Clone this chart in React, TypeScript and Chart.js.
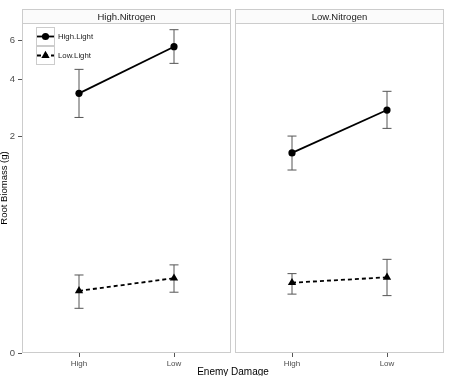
import React, { useEffect, useRef } from "react";
import { Chart, registerables, LinearScale } from "chart.js";

Chart.register(...registerables);

class CbrtScale extends LinearScale {
  static id = "cbrt";
  static defaults = LinearScale.defaults;
  getPixelForValue(value: number) {
    const a = Math.cbrt(this.min), b = Math.cbrt(this.max);
    return this.getPixelForDecimal((Math.cbrt(value) - a) / (b - a));
  }
  getValueForPixel(pixel: number) {
    const a = Math.cbrt(this.min), b = Math.cbrt(this.max);
    const t = a + this.getDecimalForPixel(pixel) * (b - a);
    return t * t * t;
  }
}
Chart.register(CbrtScale as any);

// ---- data ----
const categories = ["High", "Low"];
const panels = ["High.Nitrogen", "Low.Nitrogen"];
const seriesNames = ["High.Light", "Low.Light"];
const yTicks = [0, 2, 4, 6];
const yMax = 7.04;

const highN_highLight = [3.43, 5.63];
const highN_highLight_lo = [2.56, 4.76];
const highN_highLight_hi = [4.47, 6.62];
const highN_lowLight = [0.047, 0.082];
const highN_lowLight_lo = [0.0175, 0.044];
const highN_lowLight_hi = [0.093, 0.134];

const lowN_highLight = [1.57, 2.81];
const lowN_highLight_lo = [1.2, 2.22];
const lowN_highLight_hi = [2.0, 3.51];
const lowN_lowLight = [0.068, 0.085];
const lowN_lowLight_lo = [0.04, 0.037];
const lowN_lowLight_hi = [0.098, 0.161];

const FONT = "'Liberation Sans', Arial, sans-serif";

const toPts = (vals: number[]) => vals.map((v, i) => ({ x: i + 1, y: v }));

function makeDatasets(hl: number[], hlLo: number[], hlHi: number[], ll: number[], llLo: number[], llHi: number[]) {
  return [
    {
      label: seriesNames[0],
      data: toPts(hl),
      errLo: hlLo,
      errHi: hlHi,
      borderColor: "#000",
      backgroundColor: "#000",
      borderWidth: 1.8,
      pointStyle: "circle",
      pointRadius: 3.6,
      pointBorderWidth: 0,
      tension: 0,
    },
    {
      label: seriesNames[1],
      data: toPts(ll),
      errLo: llLo,
      errHi: llHi,
      borderColor: "#000",
      backgroundColor: "#000",
      borderWidth: 1.8,
      borderDash: [4, 3],
      pointStyle: "triangle",
      pointRadius: 4.8,
      pointBorderWidth: 0,
      tension: 0,
    },
  ];
}

const errorBarPlugin = {
  id: "errbars",
  beforeDatasetsDraw(chart: any) {
    const ctx = chart.ctx;
    const xs = chart.scales.x, ys = chart.scales.y;
    ctx.save();
    ctx.strokeStyle = "#555";
    ctx.lineWidth = 1;
    chart.data.datasets.forEach((ds: any) => {
      ds.data.forEach((p: any, i: number) => {
        const x = xs.getPixelForValue(p.x);
        const y1 = ys.getPixelForValue(ds.errLo[i]);
        const y2 = ys.getPixelForValue(ds.errHi[i]);
        ctx.beginPath();
        ctx.moveTo(x, y1); ctx.lineTo(x, y2);
        ctx.moveTo(x - 4.5, y1); ctx.lineTo(x + 4.5, y1);
        ctx.moveTo(x - 4.5, y2); ctx.lineTo(x + 4.5, y2);
        ctx.stroke();
      });
    });
    ctx.restore();
  },
};

const panelPlugin = {
  id: "panel",
  beforeDraw(chart: any) {
    const ctx = chart.ctx;
    const a = chart.chartArea;
    ctx.save();
    ctx.fillStyle = "#fff";
    ctx.fillRect(a.left, a.top, a.right - a.left, a.bottom - a.top);
    ctx.restore();
  },
  afterDraw(chart: any, _args: any, opts: any) {
    const ctx = chart.ctx;
    const a = chart.chartArea;
    ctx.save();
    ctx.strokeStyle = "#cccccc";
    ctx.lineWidth = 1;
    ctx.strokeRect(a.left + 0.5, a.top + 0.5, a.right - a.left - 1, a.bottom - a.top - 1);
    // strip
    ctx.fillStyle = "#fbfbfb";
    ctx.fillRect(a.left, 9, a.right - a.left, a.top - 9);
    ctx.strokeRect(a.left + 0.5, 9.5, a.right - a.left - 1, a.top - 9);
    ctx.fillStyle = "#1a1a1a";
    ctx.font = `9.5px ${FONT}`;
    ctx.textAlign = "center";
    ctx.textBaseline = "middle";
    ctx.fillText(opts.strip, (a.left + a.right) / 2, (9 + a.top) / 2 + 1);
    if (opts.legend) {
      const dss = chart.data.datasets;
      dss.forEach((ds: any, i: number) => {
        const kx = 36, ky = 27 + i * 19, kw = 19;
        ctx.fillStyle = "#fff";
        ctx.fillRect(kx, ky, kw, kw);
        ctx.strokeStyle = "#cccccc";
        ctx.lineWidth = 1;
        ctx.strokeRect(kx + 0.5, ky + 0.5, kw - 1, kw - 1);
        const cy = ky + kw / 2;
        ctx.strokeStyle = "#000";
        ctx.lineWidth = 1.8;
        ctx.setLineDash(ds.borderDash || []);
        ctx.beginPath();
        ctx.moveTo(kx + 1, cy); ctx.lineTo(kx + kw - 1, cy);
        ctx.stroke();
        ctx.setLineDash([]);
        ctx.fillStyle = "#000";
        if (ds.pointStyle === "circle") {
          ctx.beginPath();
          ctx.arc(kx + kw / 2, cy, 3.6, 0, Math.PI * 2);
          ctx.fill();
        } else {
          const r = 4.8;
          ctx.beginPath();
          ctx.moveTo(kx + kw / 2, cy - r);
          ctx.lineTo(kx + kw / 2 + r * 0.866, cy + r * 0.5);
          ctx.lineTo(kx + kw / 2 - r * 0.866, cy + r * 0.5);
          ctx.closePath();
          ctx.fill();
        }
        ctx.fillStyle = "#1a1a1a";
        ctx.font = `7.8px ${FONT}`;
        ctx.textAlign = "left";
        ctx.textBaseline = "middle";
        ctx.fillText(ds.label, kx + kw + 3, cy);
      });
    }
    if (opts.xTitle) {
      ctx.fillStyle = "#000";
      ctx.font = `10px ${FONT}`;
      ctx.textAlign = "center";
      ctx.textBaseline = "top";
      ctx.fillText(opts.xTitle, 233, 367);
    }
    ctx.restore();
  },
};

function makeConfig(datasets: any[], strip: string, isLeft: boolean): any {
  return {
    type: "line",
    data: { datasets },
    plugins: [panelPlugin, errorBarPlugin],
    options: {
      animation: false,
      responsive: false,
      devicePixelRatio: 1,
      layout: {
        padding: isLeft
          ? { left: 0, right: 219, top: 23, bottom: 0 }
          : { left: 235, right: 6, top: 23, bottom: 0 },
      },
      plugins: {
        legend: { display: false },
        tooltip: { enabled: false },
        panel: { strip, legend: isLeft, xTitle: isLeft ? null : "Enemy Damage" },
      },
      scales: {
        x: {
          type: "linear",
          min: 0.4,
          max: 2.6,
          afterBuildTicks: (s: any) => {
            s.ticks = categories.map((_, i) => ({ value: i + 1 }));
          },
          afterFit: (s: any) => {
            s.height = 23;
          },
          ticks: {
            callback: (v: number) => categories[Math.round(v) - 1] ?? "",
            font: { family: FONT, size: 8 },
            color: "#4d4d4d",
            padding: 2,
            maxRotation: 0,
          },
          grid: { drawOnChartArea: false, drawTicks: true, tickLength: 4, color: "#555" },
          border: { display: false },
        },
        y: {
          type: "cbrt",
          display: isLeft,
          min: 0,
          max: yMax,
          afterBuildTicks: (s: any) => {
            s.ticks = yTicks.map((v) => ({ value: v }));
          },
          afterFit: (s: any) => {
            s.width = isLeft ? 22 : 0;
          },
          ticks: {
            callback: (v: number) => String(v),
            font: { family: FONT, size: 9.5 },
            color: "#4d4d4d",
            padding: 3,
          },
          title: {
            display: true,
            text: "Root Biomass (g)",
            font: { family: FONT, size: 9.5 },
            color: "#000",
            padding: { top: -1, bottom: 0 },
          },
          grid: { drawOnChartArea: false, drawTicks: true, tickLength: 4, color: "#555" },
          border: { display: false },
        },
      },
    },
  };
}

export default function App() {
  const leftRef = useRef<HTMLCanvasElement>(null);
  const rightRef = useRef<HTMLCanvasElement>(null);
  useEffect(() => {
    const c1 = new Chart(
      leftRef.current!,
      makeConfig(
        makeDatasets(highN_highLight, highN_highLight_lo, highN_highLight_hi, highN_lowLight, highN_lowLight_lo, highN_lowLight_hi),
        panels[0],
        true
      )
    );
    const c2 = new Chart(
      rightRef.current!,
      makeConfig(
        makeDatasets(lowN_highLight, lowN_highLight_lo, lowN_highLight_hi, lowN_lowLight, lowN_lowLight_lo, lowN_lowLight_hi),
        panels[1],
        false
      )
    );
    return () => {
      c1.destroy();
      c2.destroy();
    };
  }, []);
  return (
    <div style={{ position: "fixed", left: 0, top: 0, width: 450, height: 376, background: "#fff", overflow: "hidden" }}>
      <canvas ref={leftRef} width={450} height={376} style={{ position: "absolute", left: 0, top: 0, width: 450, height: 376 }} />
      <canvas ref={rightRef} width={450} height={376} style={{ position: "absolute", left: 0, top: 0, width: 450, height: 376 }} />
    </div>
  );
}
